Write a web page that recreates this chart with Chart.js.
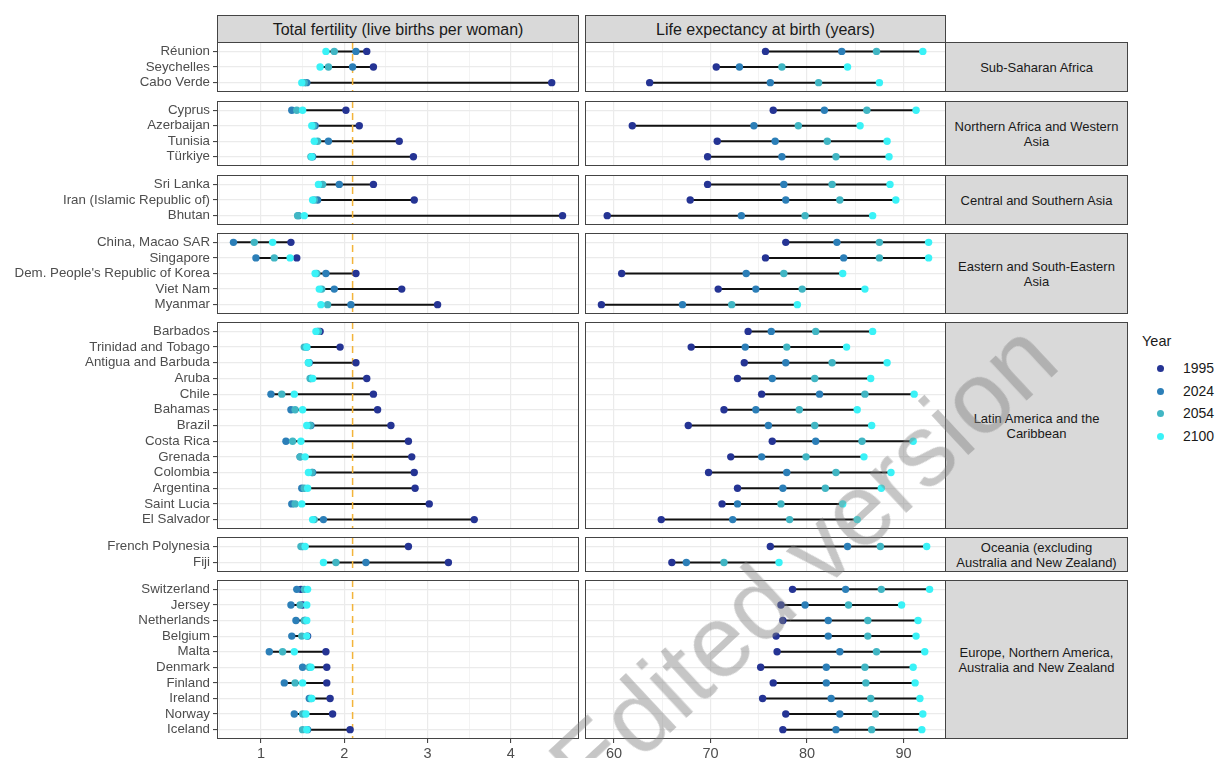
<!DOCTYPE html>
<html>
<head>
<meta charset="utf-8">
<script src="https://cdn.jsdelivr.net/npm/chart.js@4.4.0/dist/chart.umd.min.js"></script>
<style>
  body { margin: 0; background: #fff; font-family: 'Liberation Sans', Arial, sans-serif; }
  #wrap { position: relative; width: 1218px; height: 758px; overflow: hidden; background: #fff; }
  .box { position: absolute; }
  .strip {
    position: absolute; box-sizing: border-box; background: #d9d9d9; border: 1px solid #444;
    display: flex; align-items: center; justify-content: center; text-align: center;
    color: #1a1a1a; font-size: 13px; line-height: 15px; white-space: pre;
  }
  .head { font-size: 16px; }
  #legend { position: absolute; left: 1142px; top: 333px; color: #1a1a1a; }
  #legend .title { font-size: 14.5px; margin-bottom: 8px; }
  #legend .item { position: relative; height: 22.7px; font-size: 14px; line-height: 22.7px; padding-left: 41px; }
  #legend .dot { position: absolute; left: 15px; top: 8px; width: 7px; height: 7px; border-radius: 50%; }
  #mark {
    position: absolute; left: 803px; top: 562px; transform: translate(-50%, -50%) rotate(-43deg);
    font-size: 102px; color: rgba(128,128,128,0.45); white-space: nowrap; pointer-events: none;
  }
</style>
</head>
<body>
<div id="wrap"></div>
<script>
var YEARS = ['1995', '2024', '2054', '2100'];
var YEAR_COLORS = ['#253494', '#2c7fb8', '#41b6c4', '#3af2f7'];

var REGIONS = [
  'Sub-Saharan Africa',
  'Northern Africa and Western\nAsia',
  'Central and Southern Asia',
  'Eastern and South-Eastern\nAsia',
  'Latin America and the\nCaribbean',
  'Oceania (excluding\nAustralia and New Zealand)',
  'Europe, Northern America,\nAustralia and New Zealand'
];
var REGION_SIZES = [3, 4, 3, 5, 13, 2, 10];

var COUNTRIES = [
  'Réunion', 'Seychelles', 'Cabo Verde',
  'Cyprus', 'Azerbaijan', 'Tunisia', 'Türkiye',
  'Sri Lanka', 'Iran (Islamic Republic of)', 'Bhutan',
  'China, Macao SAR', 'Singapore', "Dem. People's Republic of Korea", 'Viet Nam', 'Myanmar',
  'Barbados', 'Trinidad and Tobago', 'Antigua and Barbuda', 'Aruba', 'Chile', 'Bahamas', 'Brazil',
  'Costa Rica', 'Grenada', 'Colombia', 'Argentina', 'Saint Lucia', 'El Salvador',
  'French Polynesia', 'Fiji',
  'Switzerland', 'Jersey', 'Netherlands', 'Belgium', 'Malta', 'Denmark', 'Finland', 'Ireland', 'Norway', 'Iceland'
];

// total fertility, live births per woman
var TFR_1995 = [2.27, 2.35, 4.49, 2.02, 2.18, 2.66, 2.83, 2.35, 2.84, 4.62, 1.36, 1.43, 2.14, 2.69, 3.12,
  1.71, 1.95, 2.14, 2.27, 2.35, 2.40, 2.56, 2.77, 2.81, 2.84, 2.85, 3.02, 3.56, 2.77, 3.25,
  1.48, 1.50, 1.53, 1.56, 1.78, 1.79, 1.79, 1.83, 1.86, 2.07];
var TFR_2024 = [2.14, 2.10, 1.55, 1.37, 1.65, 1.81, 1.62, 1.94, 1.68, 1.45, 0.67, 0.94, 1.78, 1.88, 2.08,
  1.68, 1.55, 1.58, 1.60, 1.12, 1.36, 1.60, 1.30, 1.47, 1.62, 1.49, 1.37, 1.75, 1.50, 2.26,
  1.43, 1.36, 1.42, 1.37, 1.10, 1.50, 1.28, 1.58, 1.40, 1.56];
var TFR_2054 = [1.88, 1.81, 1.52, 1.43, 1.63, 1.68, 1.60, 1.74, 1.64, 1.44, 0.92, 1.16, 1.67, 1.73, 1.80,
  1.69, 1.52, 1.57, 1.59, 1.25, 1.41, 1.59, 1.38, 1.47, 1.61, 1.52, 1.41, 1.64, 1.48, 1.90,
  1.52, 1.47, 1.52, 1.49, 1.26, 1.58, 1.41, 1.60, 1.50, 1.50];
var TFR_2100 = [1.78, 1.71, 1.49, 1.50, 1.61, 1.64, 1.61, 1.69, 1.62, 1.52, 1.14, 1.35, 1.65, 1.70, 1.72,
  1.66, 1.55, 1.57, 1.62, 1.40, 1.50, 1.55, 1.48, 1.53, 1.57, 1.56, 1.49, 1.62, 1.53, 1.75,
  1.56, 1.55, 1.55, 1.55, 1.40, 1.60, 1.50, 1.61, 1.54, 1.55];

// life expectancy at birth, years
var LE_1995 = [75.7, 70.6, 63.7, 76.5, 61.9, 70.7, 69.7, 69.7, 67.9, 59.3, 77.8, 75.7, 60.8, 70.8, 58.7,
  73.9, 68.0, 73.5, 72.8, 75.3, 71.4, 67.7, 76.4, 72.1, 69.8, 72.8, 71.2, 64.9, 76.2, 66.0,
  78.5, 77.3, 77.5, 76.8, 76.9, 75.2, 76.5, 75.4, 77.8, 77.5];
var LE_2024 = [83.6, 73.0, 76.2, 81.8, 74.5, 76.7, 77.4, 77.6, 77.8, 73.2, 83.1, 83.8, 73.7, 74.7, 67.1,
  76.3, 73.6, 77.8, 76.4, 81.3, 74.7, 76.0, 80.9, 75.3, 77.9, 77.5, 72.8, 72.3, 84.2, 67.5,
  84.0, 79.8, 82.2, 82.2, 83.4, 82.0, 82.0, 82.5, 83.4, 83.0];
var LE_2054 = [87.2, 77.4, 81.2, 86.2, 79.1, 82.1, 83.0, 82.6, 83.4, 79.8, 87.5, 87.5, 77.6, 79.5, 72.2,
  80.9, 77.9, 82.6, 80.8, 86.0, 79.2, 80.8, 85.7, 79.9, 83.0, 81.9, 77.3, 78.2, 87.6, 71.4,
  87.7, 84.3, 86.3, 86.3, 87.2, 86.0, 86.1, 86.6, 87.1, 86.7];
var LE_2100 = [92.0, 84.2, 87.5, 91.3, 85.5, 88.3, 88.5, 88.6, 89.2, 86.8, 92.6, 92.6, 83.7, 86.0, 79.0,
  86.8, 84.1, 88.3, 86.6, 91.1, 85.2, 86.7, 91.0, 85.9, 88.7, 87.7, 83.7, 85.2, 92.4, 77.1,
  92.7, 89.8, 91.5, 91.3, 92.2, 91.0, 91.2, 91.7, 92.0, 91.9];

var REPLACEMENT_TFR = 2.1;
var TFR_MAJOR = [1, 2, 3, 4];
var TFR_MINOR = [0.5, 1.5, 2.5, 3.5, 4.5];
var LE_MAJOR = [60, 70, 80, 90];
var LE_MINOR = [65, 75, 85];

var FONT = "'Liberation Sans', Arial, sans-serif";
var wrap = document.getElementById('wrap');

// ggplot-like 5% expansion of the data range
function expandRange(arrs) {
  var all = [].concat.apply([], arrs);
  var lo = Math.min.apply(null, all), hi = Math.max.apply(null, all);
  var pad = (hi - lo) * 0.05;
  return [lo - pad, hi + pad];
}

var panelBorder = {
  id: 'panelBorder',
  afterDraw: function (chart) {
    var a = chart.chartArea, ctx = chart.ctx;
    ctx.save();
    ctx.strokeStyle = '#444';
    ctx.lineWidth = 1;
    ctx.strokeRect(a.left + 0.5, a.top + 0.5, a.right - a.left - 1, a.bottom - a.top - 1);
    ctx.restore();
  }
};

function panelChart(opt) {
  var div = document.createElement('div');
  div.className = 'box';
  div.style.left = opt.left + 'px';
  div.style.top = opt.top + 'px';
  var canvas = document.createElement('canvas');
  canvas.width = opt.width;
  canvas.height = opt.height;
  div.appendChild(canvas);
  wrap.appendChild(div);

  var n = opt.labels.length;
  var datasets = [];

  var seg = [];
  for (var i = 0; i < n; i++) {
    var vals = opt.series.map(function (s) { return s[i]; });
    seg.push({ x: Math.min.apply(null, vals), y: i });
    seg.push({ x: Math.max.apply(null, vals), y: i });
    seg.push({ x: null, y: null });
  }
  datasets.push({ data: seg, showLine: true, spanGaps: false, borderColor: '#111', borderWidth: 2, pointRadius: 0, order: 6 });

  if (opt.refLine != null) {
    datasets.push({
      data: [{ x: opt.refLine, y: -0.6 }, { x: opt.refLine, y: n - 0.4 }],
      showLine: true, borderColor: '#f3b43a', borderWidth: 1.5, borderDash: [7, 5], pointRadius: 0, order: 5
    });
  }

  for (var k = 0; k < YEARS.length; k++) {
    datasets.push({
      label: YEARS[k],
      data: opt.series[k].map(function (v, i) { return { x: v, y: i }; }),
      backgroundColor: YEAR_COLORS[k],
      borderWidth: 0,
      pointRadius: 3.7,
      order: 4 - k
    });
  }

  var ticks = opt.major.concat(opt.minor).sort(function (a, b) { return a - b; });
  function isMajor(v) { return opt.major.indexOf(v) >= 0; }

  return new Chart(canvas, {
    type: 'scatter',
    data: { datasets: datasets },
    options: {
      responsive: false,
      animation: false,
      events: [],
      layout: { padding: 0, autoPadding: false },
      plugins: { legend: { display: false }, tooltip: { enabled: false } },
      scales: {
        x: {
          type: 'linear', min: opt.range[0], max: opt.range[1],
          afterBuildTicks: function (s) { s.ticks = ticks.map(function (v) { return { value: v }; }); },
          afterFit: function (s) { s.height = opt.showX ? 24 : 0; s.paddingLeft = 0; s.paddingRight = 0; },
          border: { display: false },
          grid: {
            color: '#ebebeb',
            lineWidth: function (c) { return c.tick && isMajor(c.tick.value) ? 1.2 : 0.6; },
            drawTicks: opt.showX,
            tickLength: 4,
            tickWidth: 1,
            tickColor: function (c) { return c.tick && isMajor(c.tick.value) ? '#333' : 'rgba(0,0,0,0)'; }
          },
          ticks: {
            display: opt.showX, autoSkip: false, maxRotation: 0, padding: 2,
            color: '#4d4d4d', font: { family: FONT, size: 14.5 },
            callback: function (v) { return isMajor(v) ? String(v) : ''; }
          }
        },
        y: {
          type: 'linear', reverse: true, min: -0.6, max: n - 0.4,
          afterBuildTicks: function (s) { s.ticks = opt.labels.map(function (_, i) { return { value: i }; }); },
          afterFit: function (s) { s.width = opt.yWidth; s.paddingTop = 0; s.paddingBottom = 0; },
          border: { display: false },
          grid: { color: '#ebebeb', lineWidth: 1.2, drawTicks: opt.showY, tickLength: 4, tickWidth: 1, tickColor: '#333' },
          ticks: {
            display: opt.showY, autoSkip: false, padding: 3,
            color: '#4d4d4d', font: { family: FONT, size: 13.3 },
            callback: function (v) { return opt.labels[v]; }
          }
        }
      }
    },
    plugins: [panelBorder]
  });
}

function addStrip(text, left, topPx, width, height, cls) {
  var d = document.createElement('div');
  d.className = 'strip' + (cls ? ' ' + cls : '');
  d.style.left = left + 'px';
  d.style.top = topPx + 'px';
  d.style.width = width + 'px';
  d.style.height = height + 'px';
  d.textContent = text;
  wrap.appendChild(d);
}

function build() {
  var TOP0 = 42.3, UNIT = 15.65, GAP = 8.2;
  var LEFT_X = 217, LEFT_R = 579, RIGHT_X = 585, RIGHT_R = 946, STRIP_R = 1128;

  var tfrRange = expandRange([TFR_1995, TFR_2024, TFR_2054, TFR_2100]);
  var leRange = expandRange([LE_1995, LE_2024, LE_2054, LE_2100]);

  addStrip('Total fertility (live births per woman)', LEFT_X, 15, LEFT_R - LEFT_X, 28, 'head');
  addStrip('Life expectancy at birth (years)', RIGHT_X, 15, RIGHT_R - RIGHT_X, 28, 'head');

  var yPos = TOP0, start = 0;
  for (var r = 0; r < REGIONS.length; r++) {
    var cnt = REGION_SIZES[r];
    var pTop = Math.round(yPos);
    var pBottom = Math.round(yPos + (cnt + 0.2) * UNIT);
    var h = pBottom - pTop;
    var last = r === REGIONS.length - 1;
    var s0 = start, s1 = start + cnt;
    var sl = function (a) { return a.slice(s0, s1); };
    var labels = COUNTRIES.slice(s0, s1);

    panelChart({
      left: 0, top: pTop, width: LEFT_R, height: h + (last ? 24 : 0), yWidth: LEFT_X,
      labels: labels, series: [sl(TFR_1995), sl(TFR_2024), sl(TFR_2054), sl(TFR_2100)],
      range: tfrRange, major: TFR_MAJOR, minor: TFR_MINOR, showX: last, showY: true, refLine: REPLACEMENT_TFR
    });
    panelChart({
      left: RIGHT_X, top: pTop, width: RIGHT_R - RIGHT_X, height: h + (last ? 24 : 0), yWidth: 0,
      labels: labels, series: [sl(LE_1995), sl(LE_2024), sl(LE_2054), sl(LE_2100)],
      range: leRange, major: LE_MAJOR, minor: LE_MINOR, showX: last, showY: false, refLine: null
    });
    addStrip(REGIONS[r], RIGHT_R - 1, pTop, STRIP_R - RIGHT_R + 1, h);

    yPos += (cnt + 0.2) * UNIT + GAP;
    start += cnt;
  }

  var lg = document.createElement('div');
  lg.id = 'legend';
  var html = '<div class="title">Year</div>';
  for (var k = 0; k < YEARS.length; k++) {
    html += '<div class="item"><span class="dot" style="background:' + YEAR_COLORS[k] + '"></span>' + YEARS[k] + '</div>';
  }
  lg.innerHTML = html;
  wrap.appendChild(lg);

  var mark = document.createElement('div');
  mark.id = 'mark';
  mark.textContent = 'Edited version';
  wrap.appendChild(mark);
}

build();
</script>
</body>
</html>
